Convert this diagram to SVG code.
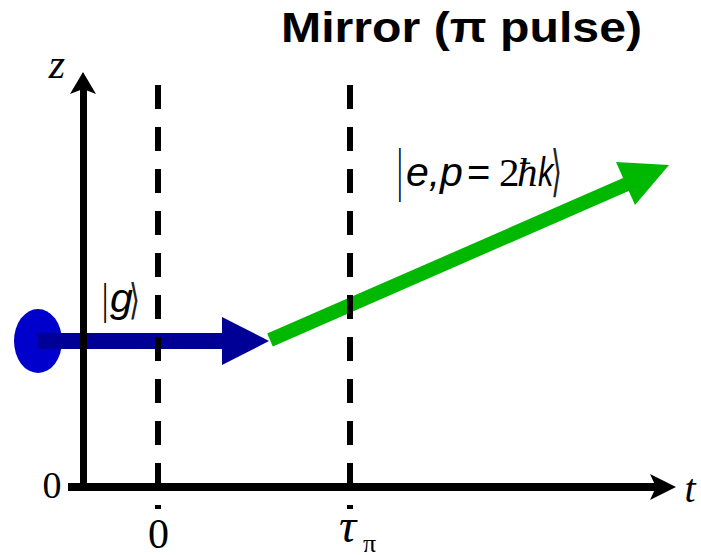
<svg xmlns="http://www.w3.org/2000/svg" width="701" height="555" viewBox="0 0 701 555">
<style>
.serif{font-family:"Liberation Serif","Times New Roman",serif;fill:#000}
.sans{font-family:"Liberation Sans",Arial,sans-serif;fill:#000}
.axis{stroke:#000;stroke-width:8;fill:none}
.dash{stroke:#000;stroke-width:6;stroke-dasharray:24 18;fill:none}
.br{font-family:"DejaVu Sans","Liberation Sans",sans-serif;fill:#222}
</style>
<rect width="701" height="555" fill="#fff"/>
<g id="title"><text class="sans" x="281" y="42" font-weight="bold" font-size="42" textLength="361" lengthAdjust="spacingAndGlyphs">Mirror (π pulse)</text></g>
<g id="atom"><ellipse cx="38" cy="341" rx="24" ry="32" fill="#0000CC"/></g>
<g id="connectors">
<g id="ground-arrow"><line x1="38" y1="341" x2="224" y2="341" stroke="#000096" stroke-width="16"/><polygon points="222,317 269,341 222,365" fill="#000096"/></g>
<g id="excited-arrow"><line x1="270" y1="340" x2="627" y2="184" stroke="#00B800" stroke-width="14"/><polygon points="616,162 669,165 635,205" fill="#00B800"/></g>
</g>
<g id="axes">
<line class="axis" x1="83.5" y1="491" x2="83.5" y2="88" style="stroke-width:7"/>
<polygon points="83,72 96,94 83,89 70,94" fill="#000"/>
<line class="axis" x1="68" y1="487" x2="658" y2="487"/>
<polygon points="676,487 650,474 656,487 650,500" fill="#000"/>
<text class="serif" x="52" y="498" font-size="38" text-anchor="middle">0</text>
<text class="serif" x="57" y="78" font-size="42" font-style="italic" text-anchor="middle">z</text>
<text class="serif" x="690" y="502" font-size="40" font-style="italic" text-anchor="middle">t</text>
</g>
<g id="time-0"><line class="dash" x1="158" y1="85" x2="158" y2="509"/><text class="serif" x="158.5" y="548" font-size="42" text-anchor="middle">0</text></g>
<g id="time-tau"><line class="dash" x1="350" y1="85" x2="350" y2="509"/><text class="serif" x="339" y="542" font-size="48" font-style="italic">τ</text><text class="serif" x="363" y="552" font-size="26">π</text></g>
<g id="label-g">
<text class="sans" transform="translate(102.4,314) scale(0.5,1.07)" font-size="40">|</text>
<text class="sans" x="110" y="312" font-size="41" font-style="italic">g</text>
<text class="br" transform="translate(129,314) scale(0.7,1.05)" font-size="40">⟩</text>
</g>
<g id="label-e">
<text class="sans" transform="translate(397.5,190) scale(0.45,1.45)" font-size="40">|</text>
<text class="sans" x="406" y="186" font-size="41" font-style="italic">e,</text>
<text class="sans" x="440" y="186" font-size="41" font-style="italic">p</text>
<text class="sans" x="467" y="186" font-size="40">=</text>
<text class="serif" x="499" y="186" font-size="41">2</text>
<text class="serif" x="517" y="186" font-size="41" font-style="italic">ħ</text>
<text class="sans" x="538" y="186" font-size="41" font-style="italic" transform="translate(538,186) scale(0.75,1) translate(-538,-186)">k</text>
<text class="br" transform="translate(551,190) scale(0.7,1.38)" font-size="40">⟩</text>
</g>
</svg>
